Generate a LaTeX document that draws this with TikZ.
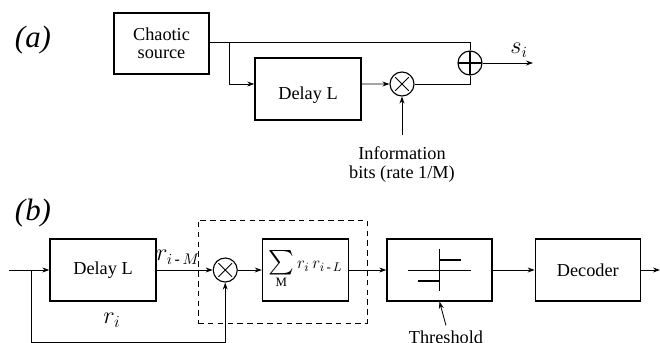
\documentclass[tikz,border=0pt]{standalone}
\usepackage{amsmath}
\usepackage{exscale}
\usepackage{fontspec}
\setmainfont{Liberation Serif}
\usetikzlibrary{arrows.meta,positioning,calc}

\begin{document}
\begin{tikzpicture}[x=0.025cm,y=-0.025cm,>={Stealth[length=5pt,width=3.5pt]},line width=0.6pt,
    font=\fontsize{13}{15}\selectfont,
    blk/.style={draw,line width=0.9pt,minimum width=2.65cm,minimum height=1.55cm,inner sep=2pt,align=center},
    mixer/.style={draw,circle,line width=0.8pt,minimum size=0.6cm,inner sep=0pt,
      path picture={\draw[line width=0.7pt] ([shift={(-0.17cm,-0.17cm)}]path picture bounding box.center) -- ([shift={(0.17cm,0.17cm)}]path picture bounding box.center)
        ([shift={(-0.17cm,0.17cm)}]path picture bounding box.center) -- ([shift={(0.17cm,-0.17cm)}]path picture bounding box.center);}},
    adder/.style={draw,circle,line width=0.8pt,minimum size=0.6cm,inner sep=0pt,
      path picture={\draw[line width=0.9pt] (path picture bounding box.north) -- (path picture bounding box.south)
        (path picture bounding box.west) -- (path picture bounding box.east);}},
    tag/.style={font=\fontsize{22}{24}\selectfont\itshape},
    dashbox/.style={draw,dash pattern=on 4pt off 3pt,minimum width=4.225cm,minimum height=2.575cm}]
  \useasboundingbox (0,0) rectangle (660,343);
  \clip (0,0) rectangle (660,343);
  % (a) transmitter
  \node[tag] (labA) at (33,40) {(a)};
  \node[blk,minimum width=2.375cm,minimum height=1.525cm,font=\fontsize{13}{12.5}\selectfont] (src) at (161.5,43.5) {Chaotic\\source};
  \node[blk,text height=15pt,text depth=0pt] (dlyA) at (308,89) {Delay L};
  \node[mixer] (otA) at (402,84) {};
  \node[adder] (sumA) at (470,63) {};
  \node[anchor=north,inner sep=0pt,align=center,font=\fontsize{13}{14}\selectfont] (bits) at (402,146) {Information\\bits (rate 1/M)};
  \node[font=\fontsize{16}{18}\selectfont] (si) at (519,50) {$s_i$};
  \coordinate (brA) at (229,42);
  \coordinate (outA) at (533,63);
  \draw (src.east |- brA) -| (sumA.north);
  \draw[->] (brA) |- ([yshift=0.125cm]dlyA.west);
  \draw[->] ([yshift=0.125cm]dlyA.east) -- (otA);
  \draw (otA) -| (sumA.south);
  \draw[->] (sumA) -- (outA);
  \draw[->] ([yshift=0.275cm]bits.north) -- (otA.south);
  % (b) receiver
  \node[tag] (labB) at (33,213) {(b)};
  \node[dashbox] (grp) at (282.5,271.5) {};
  \node[blk] (dlyB) at (103,270) {Delay L};
  \node[mixer,right=1.4cm of dlyB] (otB) {};
  \node[blk,minimum width=2.15cm,inner sep=1pt,right=0.6cm of otB,font=\fontsize{13}{15}\selectfont,text height=12pt] (corr) {$\mathop{\scalebox{1.45}{$\sum$}}\limits_{\mathrm{M}} r_i\, r_{i\,\text{-}\,L}$};
  \node[blk,minimum width=2.625cm] (thr) at (439.5,270) {};
  \node[blk,minimum width=2.625cm,right=1.05cm of thr] (dec) {Decoder};
  \draw ([xshift=-0.79cm]thr.center) -- ([xshift=0.79cm]thr.center);
  \draw[line width=1.4pt] ([shift={(0cm,0.525cm)}]thr.center) -- ([shift={(0cm,-0.525cm)}]thr.center);
  \draw[line width=1.4pt] ([shift={(-0.525cm,-0.27cm)}]thr.center) -- ([shift={(0cm,-0.27cm)}]thr.center);
  \draw[line width=1.4pt] ([shift={(0cm,0.25cm)}]thr.center) -- ([shift={(0.525cm,0.25cm)}]thr.center);
  \node[font=\fontsize{16}{18}\selectfont] (rim) at (178,257) {$r_{i\,\text{-}\,M}$};
  \node[font=\fontsize{18}{20}\selectfont] (ri) at (112,320) {$r_i$};
  \node (thrlab) at (446,337) {Threshold};
  \coordinate (inB) at (9,270);
  \coordinate (brB) at (31,270);
  \coordinate (fbB) at (31,342);
  \coordinate (outB) at (660,270);
  \draw[->] (inB) -- (dlyB);
  \draw[->] (brB) -- (fbB) -| (otB.south);
  \draw[->] (dlyB) -- (otB);
  \draw[->] (otB) -- (corr);
  \draw[->] (corr) -- (thr);
  \draw[->] (thr) -- (dec);
  \draw[->] (dec) -- (outB);
  \draw[->] (thrlab.north) -- (thr.south);
\end{tikzpicture}
\end{document}
